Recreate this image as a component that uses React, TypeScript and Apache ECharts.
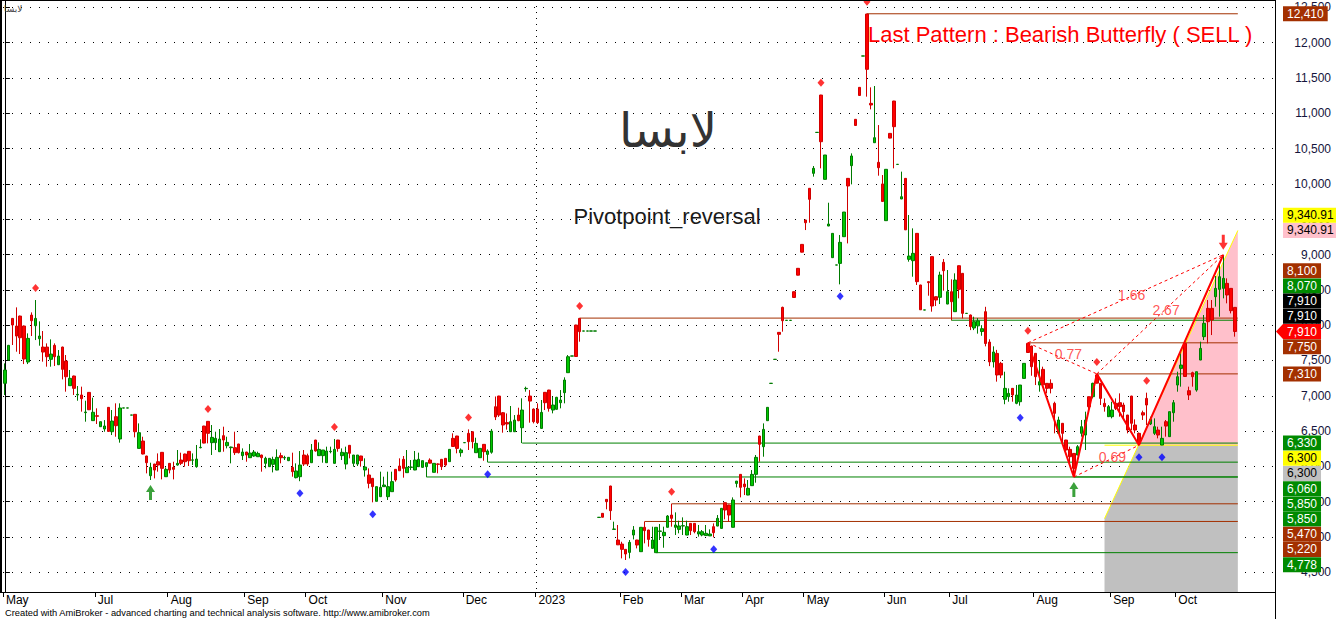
import React, { useEffect, useRef } from "react";
import * as echarts from "echarts";

// [open, high, low, close]
const bars: number[][] = [
  // May-Jun 2022 (0-23)
  [7176,7459,7011,7365],[7506,7720,7500,7714],[8096,8100,7719,8002],[7988,8252,7624,7846],
  [8129,8135,7591,7822],[7988,7995,7449,7520],[7478,7884,7449,7813],[8143,8181,7846,8063],
  [7992,8356,7789,8096],[7808,8054,7709,7846],[7690,7917,7483,7619],[7690,7742,7412,7553],
  [7516,7799,7412,7591],[7714,7742,7421,7553],[7440,7648,7435,7563],[7690,7695,7232,7374],
  [7492,7577,7058,7270],[7143,7365,7140,7247],[7280,7285,7011,7105],[7011,7138,6930,7020],
  [7011,7129,6775,6959],[6761,6930,6633,6770],[7048,7052,6798,6802],[6648,6973,6645,6766],
  // Jul (24-42)
  [6718,6822,6600,6709],[6562,6633,6560,6633],[6529,6656,6491,6572],[6836,6840,6491,6495],
  [6491,6798,6444,6642],[6704,6893,6420,6576],[6388,6893,6336,6827],[6826,6828,6826,6828],
  [6826,6828,6826,6828],[6726,6728,6726,6728],[6737,6740,6411,6491],[6255,6609,6255,6477],
  [6359,6420,6170,6175],[6147,6150,5901,6052],[5868,6052,5807,5986],[6033,6036,5830,5948],
  [6066,6184,5925,6019],[6199,6203,5816,5972],[5854,5986,5850,5958],
  // Aug (43-62)
  [6043,6047,5901,5948],[5986,6066,5816,5958],[6019,6232,6010,6043],[6090,6194,6019,6043],
  [6175,6180,5996,6066],[6213,6218,6005,6080],[6088,6184,6019,6092],[5996,6303,5981,6104],
  [6265,6383,6255,6270],[6571,6575,6326,6330],[6638,6642,6326,6468],[6336,6586,6161,6411],
  [6336,6491,6232,6397],[6208,6529,6205,6387],[6435,6562,6208,6373],[6293,6420,6255,6340],
  [6265,6279,6043,6274],[6265,6491,6161,6194],[6317,6320,6184,6194],[6152,6255,6090,6203],
  // Sep (63-78)
  [6203,6206,6066,6161],[6123,6317,6120,6189],[6147,6232,6137,6203],[6137,6208,6135,6184],
  [6161,6165,5925,6123],[6043,6137,5972,6114],[5996,6114,5993,6114],[6029,6137,5915,6099],
  [5948,6241,5945,6128],[6152,6194,6043,6123],[6120,6150,6090,6125],[6081,6130,6075,6128],
  [5986,6194,5854,5925],[5840,6043,5830,5935],[5854,6217,5790,6019],[6161,6232,6005,6033],
  // Oct (79-98)
  [6152,6180,6005,6033],[6052,6317,6050,6232],[6373,6376,6208,6218],[6152,6340,6150,6241],
  [6152,6232,6052,6232],[6052,6279,6050,6218],[6208,6279,6185,6213],[6043,6388,6040,6241],
  [6373,6376,6208,6255],[6152,6255,6090,6199],[6033,6279,5958,6194],[6298,6300,6114,6185],
  [6043,6161,5996,6161],[6033,6161,6005,6161],[6147,6150,5996,6081],[5949,6114,5855,5991],
  [5878,5972,5689,5760],[5831,5835,5491,5713],[5505,5713,5505,5713],[5571,5925,5571,5703],
  // Nov (99-119)
  [5713,5854,5710,5736],[5571,5925,5524,5713],[5642,5925,5640,5784],[5958,5962,5784,5807],
  [6005,6114,5935,5938],[6100,6147,5840,5972],[5911,6232,5908,5986],[5986,6090,5949,5991],
  [5949,6218,5946,6090],[5996,6194,5993,6100],[5986,6081,5983,6081],[5996,6052,5850,6052],
  [6090,6114,6043,6046],[5916,6043,5913,6043],[6034,6043,5902,6029],[6100,6103,5949,5996],
  [6114,6117,5996,6019],[6067,6241,6064,6241],[6397,6468,6279,6282],[6430,6433,6185,6255],
  [6194,6255,6137,6232],
  // Dec (120-138)
  [6335,6337,6335,6337],[6468,6524,6232,6350],[6491,6494,6255,6350],[6194,6406,6191,6326],
  [6123,6255,6120,6255],[6312,6315,6080,6208],[6170,6241,6060,6218],[6200,6530,6180,6500],
  [6845,6990,6656,6700],[6996,7000,6700,6727],[6760,6770,6477,6586],[6620,6750,6520,6600],
  [6491,6855,6488,6633],[6491,6727,6488,6656],[6727,6831,6640,6647],[6548,6964,6330,6798],
  [7100,7129,7058,7105],[6996,7081,6619,6925],[6812,6820,6609,6633],
  // Jan 2023 (139-160)
  [6812,6893,6600,6619],[6538,6940,6535,6765],[7049,7052,6798,6902],[7081,7084,6775,6822],
  [6798,6987,6751,6869],[6808,6985,6805,6978],[6902,7081,6822,6940],[7044,7261,6893,7223],
  [7327,7577,7325,7553],[7562,7564,7562,7564],[8002,8005,7553,7556],[8096,8100,7766,7908],
  [7916,7918,7916,7918],[7916,7918,7916,7918],[7916,7918,7916,7918],[7916,7918,7916,7918],
  [5277,5279,5277,5279],[5335,5338,5278,5280],[5533,5535,5392,5500],[5722,5725,5241,5373],
  [5108,5217,5105,5113],[4957,5170,4886,4889],
  // Feb (161-176)
  [4900,4933,4697,4825],[4825,4828,4674,4759],[4782,4957,4697,4924],[5028,5155,4966,5099],
  [4957,4960,4839,4886],[4792,5137,4790,5137],[5137,5220,4910,5090],[5099,5102,4863,4966],
  [4839,5146,4836,4957],[4778,5137,4778,5137],[5080,5184,4957,5085],[5019,5146,4848,5066],
  [5137,5311,5135,5297],[5311,5470,5146,5264],[5137,5349,5028,5170],[5108,5231,5052,5156],
  // Mar (177-192)
  [5156,5278,5028,5160],[5028,5231,5025,5146],[5193,5196,5028,5089],[5193,5196,5052,5075],
  [5042,5170,5005,5075],[5028,5099,5010,5075],[5020,5170,5020,5052],[5015,5108,5015,5042],
  [5146,5193,4995,5061],[5155,5311,5152,5264],[5122,5406,5120,5406],[5486,5489,5250,5382],
  [5453,5456,5217,5311],[5137,5561,5135,5524],[5759,5792,5703,5792],[5887,5890,5561,5703],
  // Apr (193-208)
  [5750,5830,5594,5712],[5594,5807,5592,5689],[5727,5948,5725,5887],[5887,6161,5769,6128],
  [6430,6433,6066,6312],[6279,6609,6137,6524],[6647,6836,6645,6836],[7175,7177,7175,7177],
  [7515,7517,7515,7517],[7898,7900,7624,7870],[8252,8262,7908,8063],[8067,8069,8067,8069],
  [8067,8069,8067,8069],[8474,8478,8389,8392],[8805,8808,8705,8708],[9144,9147,9031,9034],
  // May (209-229)
  [9489,9492,9347,9451],[9938,9941,9451,9782],[10150,10254,10103,10221],[10729,10731,10729,10731],
  [11259,11262,10221,10598],[10065,10410,10063,10410],[9404,9734,9402,9432],[8956,9300,8954,9300],
  [8851,8853,8851,8853],[8875,9277,8578,9173],[9253,9602,9250,9602],[10079,10082,9158,9971],
  [10259,10433,9994,10396],[10915,10918,10825,10828],[11368,11371,11250,11253],[11811,11813,11811,11813],
  [12406,12410,11236,11623],[11141,11368,11056,11118],[10584,11387,10582,10655],[10306,10834,10117,10230],
  [10000,10126,9749,9752],
  // Jun (230-246)
  [9480,10207,9478,10207],[10716,10719,10646,10649],[11174,11177,10221,10811],[10276,10278,10276,10278],
  [9787,10174,9785,9819],[10079,10082,9347,9350],[8932,9560,8899,8979],[8913,9371,8686,9017],
  [9300,9303,8569,8616],[8569,8572,8215,8218],[8214,8216,8214,8216],[8616,8619,8417,8602],
  [8970,8973,8191,8271],[8403,8406,8271,8356],[8394,8757,8299,8710],[8890,8937,8488,8771],
  [8299,8781,8297,8474],
  // Jul (247-268)
  [8474,8649,8070,8332],[8191,8734,8189,8639],[8842,8845,8380,8507],[8734,8737,8096,8167],
  [8166,8168,8166,8168],[8144,8150,7930,7980],[7960,8120,7930,8050],[7990,8100,7880,8060],
  [7910,8000,7850,7950],[8191,8260,7700,7740],[7760,7800,7420,7480],[7480,7700,7400,7620],
  [7600,7650,7200,7294],[7459,7480,7250,7294],[6950,7341,6880,7105],[6987,7105,6916,7034],
  [7105,7108,6916,7011],[6893,7152,6880,7011],[6916,7152,6860,7152],[7246,7459,7244,7459],
  [7742,7750,7610,7613],[7705,7708,7284,7412],
  // Aug (269-288)
  [7601,7604,7152,7270],[7152,7506,7058,7199],[7374,7412,7152,7155],[7176,7179,7034,7105],
  [7176,7233,7034,7105],[6893,6916,6468,6751],[6468,6704,6466,6657],[6610,6613,6326,6468],
  [6373,6376,6184,6232],[6241,6279,6043,6137],[6184,6187,5850,5972],[6161,6302,6159,6279],
  [6468,6657,6421,6562],[6444,6775,6232,6657],[6987,6990,6751,6845],[6987,7185,6963,7176],
  [7294,7310,7176,7179],[7176,7179,6869,6963],[6893,6963,6775,6846],[6704,6869,6702,6846],
  // Sep (289-305)
  [6704,6916,6680,6798],[6893,6963,6798,6822],[6902,7034,6704,6846],[6869,6902,6657,6775],
  [6727,6730,6468,6515],[6996,6999,6515,6610],[6586,6666,6468,6515],[6468,6480,6300,6326],
  [6760,6789,6657,6727],[6963,7044,6586,6869],[6600,6704,6586,6666],[6468,6680,6444,6562],
  [6515,6562,6397,6444],[6302,6562,6300,6397],[6633,6657,6421,6571],[6421,6775,6419,6775],
  [6760,6940,6633,6902],
  // Oct (306-321)
  [7152,7341,7058,7270],[7388,7601,7129,7435],[7742,7766,7270,7273],[7072,7129,6940,7011],
  [7327,7341,7129,7270],[7081,7341,7058,7341],[7506,7766,7504,7671],[7837,8144,7789,8026],
  [8238,8356,7742,8049],[8238,8356,7860,8073],[8403,8696,8262,8521],[8507,8875,8120,8686],
  [8521,8997,8380,8663],[8592,8663,8309,8427],[8521,8524,8167,8205],[8252,8255,7837,7910],
];

const monthStarts = [0, 24, 43, 63, 79, 99, 120, 139, 161, 177, 193, 209, 230, 247, 269, 289, 306];
const monthLabels = ["May", "Jul", "Aug", "Sep", "Oct", "Nov", "Dec", "2023", "Feb", "Mar", "Apr", "May", "Jun", "Jul", "Aug", "Sep", "Oct"];

const pivotHighIdx = [8, 53, 86, 121, 150, 174, 213, 225, 267, 285, 298];
const pivotLowIdx = [77, 96, 126, 162, 185, 218, 265, 296, 302];
const buyArrowIdx = [38, 279];
const sellArrowIdx = [318];

const brownLevels = [12410, 8100, 7750, 7310, 5470, 5220];
const brownStarts = [225, 150, 267, 285, 174, 167];
const greenLevels = [8070, 6330, 6060, 5850, 5850, 4778];
const greenStarts = [247, 135, 126, 110, 279, 170];

// X, A, B, C, D
const patternIdx = [267, 279, 285, 296, 318];
const patternVal = [7750, 5850, 7310, 6300, 8997];

const przStartIdx = 287;
const przStartVal = 5260;
const przTop = 9340.91;
const przBase = 6300;

const tagValues = [12410, 9340.91, 9340.91, 8100, 8070, 7910, 7910, 7910, 7750, 7310, 6330, 6300, 6300, 6060, 5850, 5850, 5470, 5220, 4778];
const tagKinds = ["brown", "yellow", "pink", "brown", "green", "black", "black", "last", "brown", "brown", "green", "yellow", "gray", "green", "green", "green", "brown", "brown", "green"];

const FONT = "'Liberation Sans', Arial, sans-serif";
const BROWN = "#a33000";
const GREEN = "#008a00";
const TAG_STYLE: Record<string, { bg: string; fg: string }> = {
  brown: { bg: BROWN, fg: "#ffffff" },
  green: { bg: GREEN, fg: "#ffffff" },
  black: { bg: "#000000", fg: "#ffffff" },
  last: { bg: "#ff0000", fg: "#ffffff" },
  yellow: { bg: "#ffff00", fg: "#000000" },
  pink: { bg: "#ffc0cb", fg: "#000000" },
  gray: { bg: "#c0c0c0", fg: "#000000" },
};

export default function App() {
  const ref = useRef<HTMLDivElement>(null);

  useEffect(() => {
    const el = ref.current;
    if (!el) return;
    const chart = echarts.init(el, null, { renderer: "svg" });

    const N = bars.length;
    const TOTAL = 332;
    const Y_MIN = 4221;
    const Y_MAX = 12605;
    const lineEnd = N - 1 + 0.8;
    const cats = Array.from({ length: TOTAL }, (_, i) => String(i));
    const monthMap = new Map<number, string>();
    monthStarts.forEach((s, k) => monthMap.set(s, monthLabels[k]));
    const yearStart = monthStarts[monthLabels.indexOf("2023")];

    const pts = patternIdx.map((i, k) => [i, patternVal[k]]);
    const [X, A, B, C, D] = patternVal;
    const dashed = [
      { a: 0, b: 2, r: Math.abs(B - A) / Math.abs(X - A) },
      { a: 1, b: 3, r: Math.abs(B - C) / Math.abs(B - A) },
      { a: 0, b: 4, r: Math.abs(D - A) / Math.abs(X - A) },
      { a: 2, b: 4, r: Math.abs(D - C) / Math.abs(B - C) },
    ];

    const levelSeries: any[] = [];
    brownLevels.forEach((v, k) => levelSeries.push({
      type: "line", xAxisIndex: 1, yAxisIndex: 0, z: 3, silent: true, showSymbol: false, symbol: "none",
      lineStyle: { color: BROWN, width: 1 }, data: [[brownStarts[k], v], [lineEnd, v]],
    }));
    greenLevels.forEach((v, k) => levelSeries.push({
      type: "line", xAxisIndex: 1, yAxisIndex: 0, z: 3, silent: true, showSymbol: false, symbol: "none",
      lineStyle: { color: "#008000", width: 1 }, data: [[greenStarts[k], v], [lineEnd, v]],
    }));

    const dashedSeries = dashed.map((d) => ({
      type: "line", xAxisIndex: 1, yAxisIndex: 0, z: 6, silent: true, showSymbol: false, symbol: "none",
      lineStyle: { color: "#ff0000", width: 1, type: [3, 3] }, data: [pts[d.a], pts[d.b]],
    }));

    const staticGraphic: any[] = [
      { type: "line", z: 50, shape: { x1: 0, y1: 0.5, x2: 1275, y2: 0.5 }, style: { stroke: "#000", lineWidth: 1 } },
      { type: "rect", z: 50, shape: { x: 0, y: 0, width: 2, height: 592 }, style: { fill: "#000" } },
      { type: "line", z: 50, shape: { x1: 0, y1: 592.5, x2: 1275, y2: 592.5 }, style: { stroke: "#000", lineWidth: 1 } },
      { type: "line", z: 50, shape: { x1: 1275.5, y1: 0, x2: 1275.5, y2: 619 }, style: { stroke: "#000", lineWidth: 1 } },
      { type: "text", z: 50, x: 4, y: 9, style: { text: "لابسا", fontSize: 9, fontFamily: "'DejaVu Sans'", fill: "#444", align: "left", verticalAlign: "middle" } },
      { type: "text", z: 50, x: 668, y: 130, style: { text: "لابسا", fontSize: 48, fontFamily: "'DejaVu Sans'", fill: "#333", align: "center", verticalAlign: "middle" } },
      { type: "text", z: 50, x: 667, y: 216, style: { text: "Pivotpoint_reversal", fontSize: 22, fontFamily: FONT, fill: "#1a1a1a", align: "center", verticalAlign: "middle" } },
      { type: "text", z: 50, x: 868, y: 34, style: { text: "Last Pattern : Bearish Butterfly ( SELL )", fontSize: 22, fontFamily: FONT, fill: "#ff0000", align: "left", verticalAlign: "middle" } },
      { type: "text", z: 50, x: 5, y: 613, style: { text: "Created with AmiBroker - advanced charting and technical analysis software. http://www.amibroker.com", fontSize: 9.3, fontFamily: FONT, fill: "#000", align: "left", verticalAlign: "middle" } },
    ];

    const option: any = {
      animation: false,
      backgroundColor: "#ffffff",
      grid: { left: 3, right: 61, top: 0, bottom: 27, show: false },
      xAxis: [
        {
          type: "category", data: cats, boundaryGap: true, gridIndex: 0,
          axisLine: { show: true, lineStyle: { color: "#000", width: 1 } },
          axisTick: { show: true, interval: (i: number) => monthMap.has(i), length: 5, lineStyle: { color: "#000" } },
          axisLabel: {
            show: true, interval: (i: number) => monthMap.has(i),
            formatter: (v: string) => monthMap.get(Number(v)) ?? "",
            align: "left", margin: 2, color: "#000", fontSize: 12, fontFamily: FONT, padding: [0, 0, 0, 1],
          },
          splitLine: { show: false },
          splitArea: { show: false },
        },
        {
          type: "value", min: -0.5, max: TOTAL - 0.5, show: false, gridIndex: 0,
          axisLine: { show: false }, axisTick: { show: false }, axisLabel: { show: false },
          splitLine: { show: false }, splitArea: { show: false },
        },
      ],
      yAxis: {
        type: "value", position: "right", min: Y_MIN, max: Y_MAX, splitNumber: 17,
        axisLine: { show: true, lineStyle: { color: "#000" } },
        axisTick: { show: true, length: 5, lineStyle: { color: "#000" } },
        axisLabel: {
          formatter: (v: number) => (v % 500 === 0 ? v.toLocaleString("en-US") : ""),
          color: "#14143c", fontSize: 12, fontFamily: FONT, align: "right", margin: 56,
        },
        splitLine: { show: true, lineStyle: { color: "#000", type: [1, 8] } },
      },
      series: [
        {
          type: "custom", xAxisIndex: 1, yAxisIndex: 0, z: 1, silent: true,
          data: [[przStartIdx, przStartVal, lineEnd, przTop, przBase]],
          renderItem: (_p: any, api: any) => {
            const x0 = api.value(0), v0 = api.value(1), x1 = api.value(2), v1 = api.value(3), base = api.value(4);
            const slope = (v1 - v0) / (x1 - x0);
            const xm = x0 + (base - v0) / slope;
            const p = (x: number, v: number) => api.coord([x, v]);
            return {
              type: "group",
              children: [
                { type: "polygon", shape: { points: [p(x0, Y_MIN), p(x0, v0), p(xm, base), p(x1, base), p(x1, Y_MIN)] }, style: { fill: "#c0c0c0" } },
                { type: "polygon", shape: { points: [p(xm, base), p(x1, v1), p(x1, base)] }, style: { fill: "#ffc0cb" } },
              ],
            };
          },
        },
        {
          type: "line", xAxisIndex: 1, yAxisIndex: 0, z: 2, silent: true, showSymbol: false, symbol: "none",
          lineStyle: { color: "#ffff00", width: 1 }, data: [[przStartIdx, przStartVal], [lineEnd, przTop]],
        },
        {
          type: "line", xAxisIndex: 1, yAxisIndex: 0, z: 2, silent: true, showSymbol: false, symbol: "none",
          lineStyle: { color: "#ffff00", width: 1 }, data: [[przStartIdx, przBase], [lineEnd, przBase]],
        },
        ...levelSeries,
        {
          type: "candlestick", xAxisIndex: 0, yAxisIndex: 0, z: 4, barWidth: 3,
          data: bars.map(([o, h, l, c]) => [o, c, l, h]),
          itemStyle: { color: "#00c800", color0: "#ff0000", borderColor: "#007a00", borderColor0: "#d00000", borderWidth: 1 },
        },
        ...dashedSeries,
        {
          type: "line", xAxisIndex: 1, yAxisIndex: 0, z: 7, silent: true, showSymbol: false, symbol: "none",
          lineStyle: { color: "#ff0000", width: 2 }, data: pts,
        },
        {
          type: "scatter", xAxisIndex: 1, yAxisIndex: 0, z: 8, silent: true, symbolSize: 0,
          data: dashed.map((d) => [(pts[d.a][0] + pts[d.b][0]) / 2, (pts[d.a][1] + pts[d.b][1]) / 2, d.r.toFixed(2)]),
          label: { show: true, position: "inside", offset: [6, -4], formatter: (p: any) => p.value[2], color: "#ff2a2a", fontSize: 14, fontFamily: FONT },
        },
        {
          type: "scatter", xAxisIndex: 1, yAxisIndex: 0, z: 8, silent: true, symbol: "diamond", symbolSize: [7, 8], symbolOffset: [0, -12],
          itemStyle: { color: "#ff0000" }, data: pivotHighIdx.map((i) => [i, bars[i][1]]),
        },
        {
          type: "scatter", xAxisIndex: 1, yAxisIndex: 0, z: 8, silent: true, symbol: "diamond", symbolSize: [7, 8], symbolOffset: [0, 12],
          itemStyle: { color: "#0000ff" }, data: pivotLowIdx.map((i) => [i, bars[i][2]]),
        },
        {
          type: "scatter", xAxisIndex: 1, yAxisIndex: 0, z: 8, silent: true,
          symbol: "path://M4.5,0 L9,7 L6,7 L6,15 L3,15 L3,7 L0,7 Z", symbolSize: [9, 15], symbolOffset: [0, 12.5],
          itemStyle: { color: "#0a8a0a" }, data: buyArrowIdx.map((i) => [i, bars[i][2]]),
        },
        {
          type: "scatter", xAxisIndex: 1, yAxisIndex: 0, z: 8, silent: true,
          symbol: "path://M3,0 L6,0 L6,8 L9,8 L4.5,15 L0,8 L3,8 Z", symbolSize: [9, 15], symbolOffset: [0, -12.5],
          itemStyle: { color: "#ff0000" }, data: sellArrowIdx.map((i) => [i, bars[i][1]]),
        },
      ],
      graphic: staticGraphic,
    };

    chart.setOption(option);

    // year separator at the boundary before the first 2023 bar
    const sepX = Math.round(chart.convertToPixel({ xAxisIndex: 1 }, yearStart - 0.5) as number) + 0.5;
    const sepGraphic = {
      type: "line", z: 2, silent: true, shape: { x1: sepX, y1: 0, x2: sepX, y2: 592 },
      style: { stroke: "#000", lineWidth: 1, lineDash: [1, 5] },
    };

    // right-axis value tags, stacked around the last-price tag
    const h = 15.2;
    const ys = tagValues.map((v) => chart.convertToPixel({ yAxisIndex: 0 }, v) as number);
    const k = tagKinds.indexOf("last");
    const pos = ys.slice();
    for (let i = k - 1; i >= 0; i--) pos[i] = Math.min(ys[i], pos[i + 1] - h);
    for (let i = k + 1; i < ys.length; i++) pos[i] = Math.max(ys[i], pos[i - 1] + h);
    const tagGraphic: any[] = [];
    tagValues.forEach((v, i) => {
      const st = TAG_STYLE[tagKinds[i]];
      const text = v.toLocaleString("en-US", { maximumFractionDigits: 2 });
      if (tagKinds[i] === "last") {
        tagGraphic.push({ type: "polygon", z: 60, shape: { points: [[1276, pos[i]], [1283, pos[i] - 7.5], [1283, pos[i] + 7.5]] }, style: { fill: st.bg } });
      }
      tagGraphic.push({
        type: "text", z: 60, x: 1283, y: pos[i],
        style: { text, fontSize: 12, fontFamily: FONT, fill: st.fg, backgroundColor: st.bg, padding: [1, 4, 1, 4], lineHeight: 13, align: "left", verticalAlign: "middle" },
      });
    });
    chart.setOption({ graphic: [sepGraphic, ...staticGraphic, ...tagGraphic] }, { replaceMerge: ["graphic"] } as any);

    return () => chart.dispose();
  }, []);

  return <div ref={ref} style={{ position: "fixed", left: 0, top: 0, width: 1336, height: 619, background: "#fff" }} />;
}
